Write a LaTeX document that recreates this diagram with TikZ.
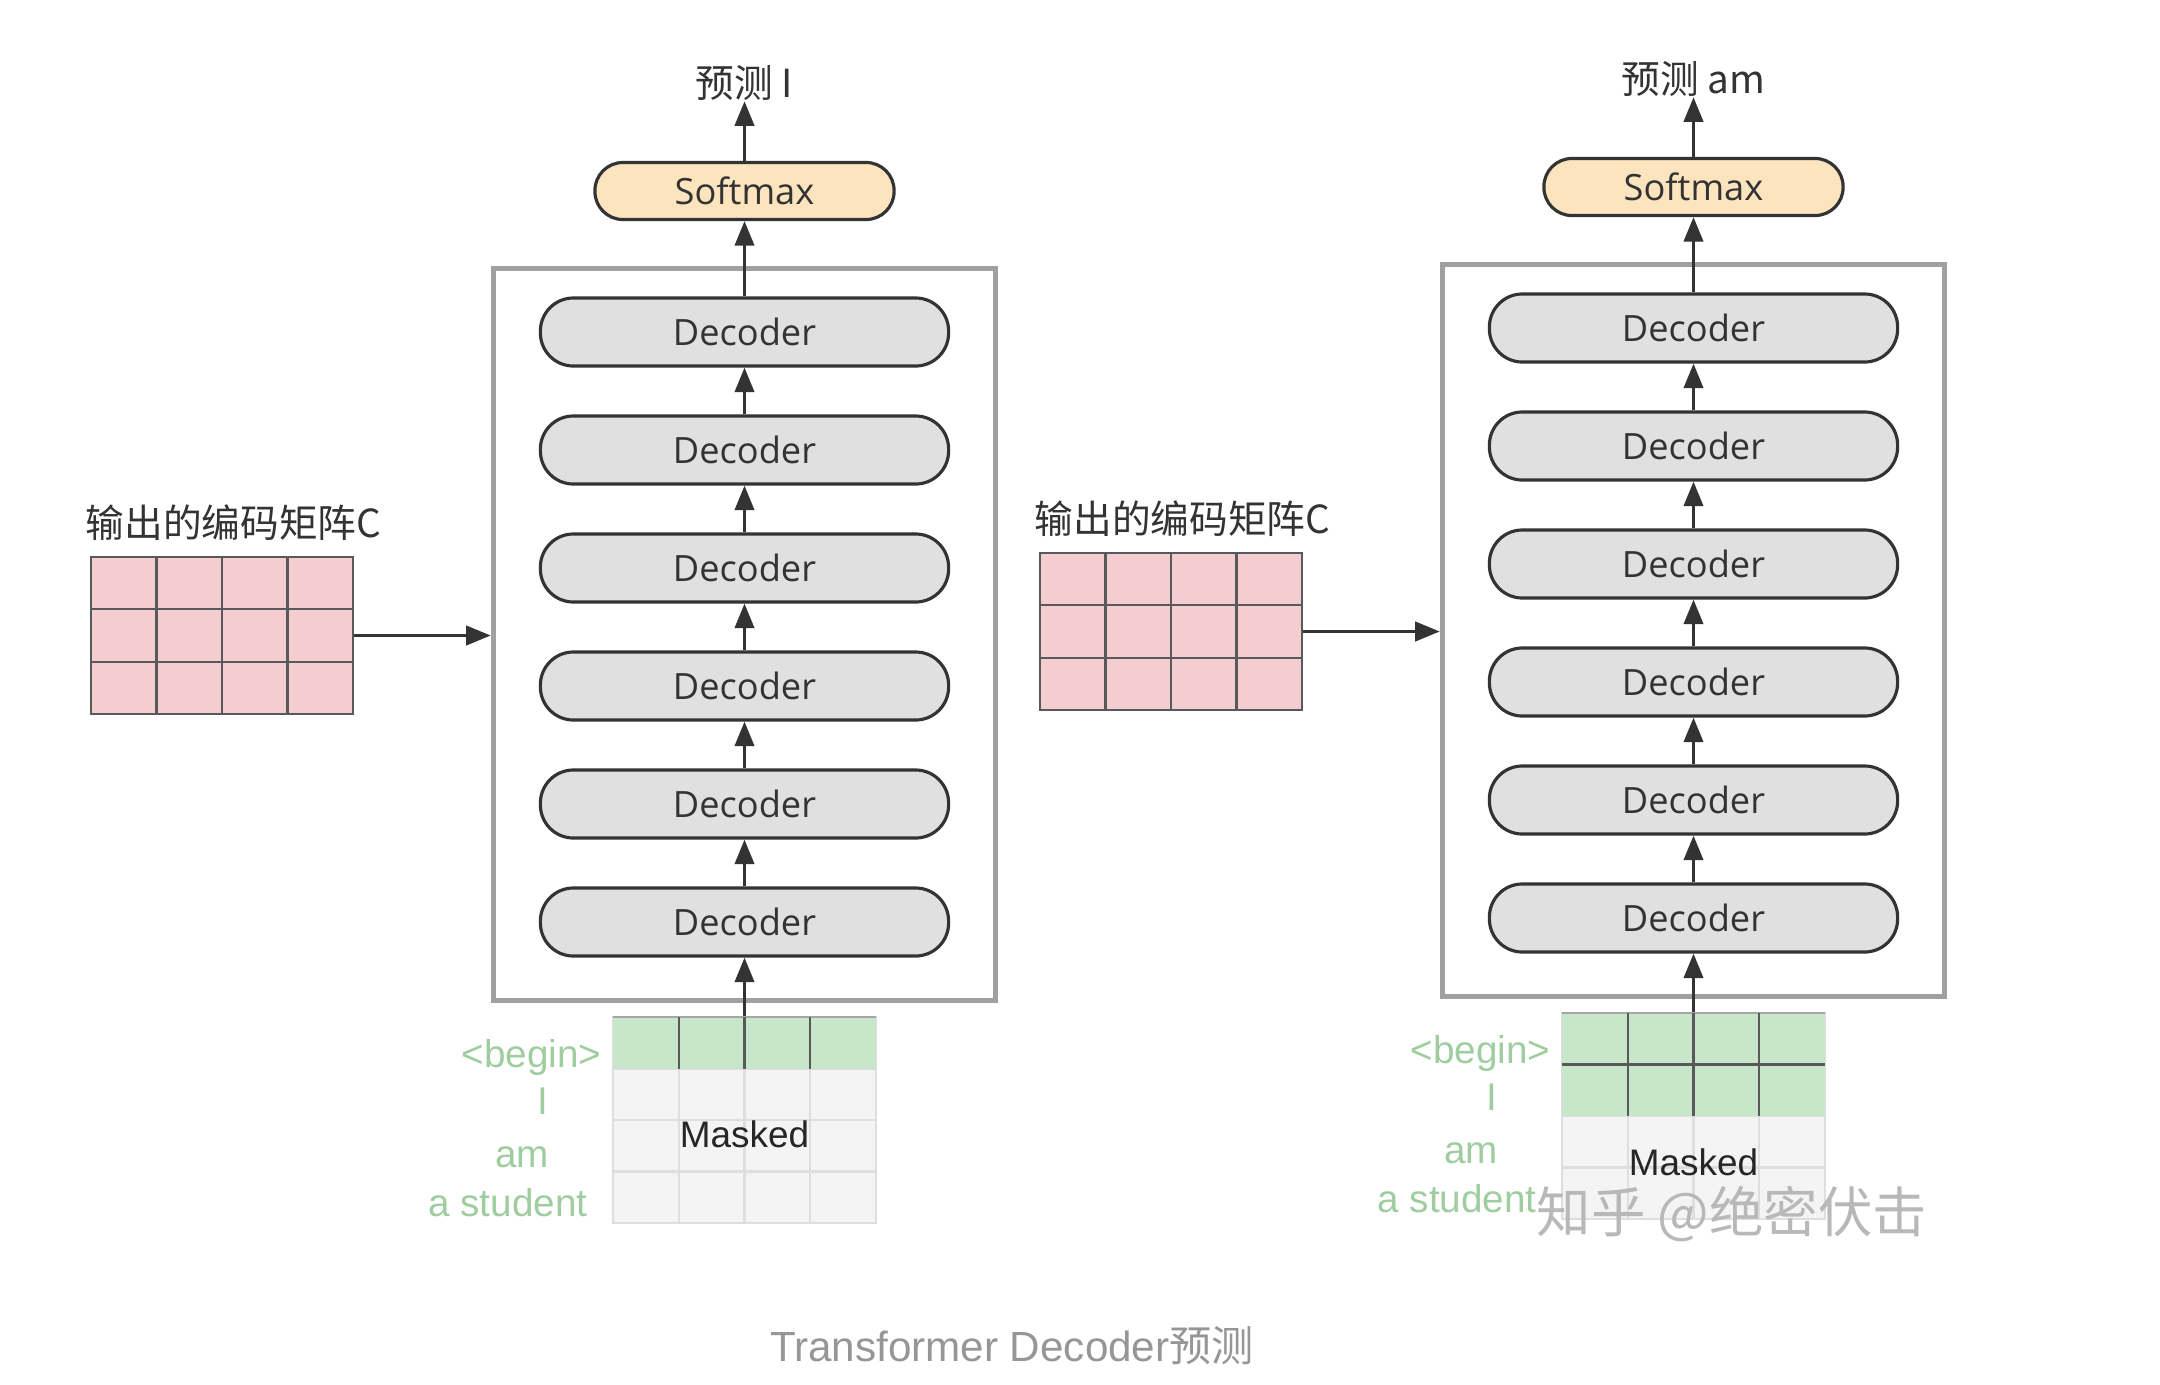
\documentclass[tikz,border=0pt]{standalone}
\usepackage{fontspec}
\setmainfont{Liberation Sans}
\newfontfamily\cjk{Noto Sans CJK SC}
\newfontfamily\decfont{Open Sans}
\usetikzlibrary{arrows.meta}

\definecolor{linedark}{RGB}{51,51,51}
\definecolor{decgray}{RGB}{224,224,224}
\definecolor{softorange}{RGB}{252,229,190}
\definecolor{boxgray}{RGB}{160,160,160}
\definecolor{encpink}{RGB}{244,205,209}
\definecolor{tokgreen}{RGB}{200,230,201}
\definecolor{maskgray}{RGB}{244,244,244}
\definecolor{masklines}{RGB}{222,222,222}
\definecolor{labgreen}{RGB}{160,205,160}
\definecolor{captgray}{RGB}{150,150,150}

\tikzset{
  decoder/.style={draw=linedark, line width=0.9pt, fill=decgray, rounded corners=0.33cm,
    minimum width=4.08cm, minimum height=0.68cm, text=linedark,
    font=\decfont\fontsize{10.3}{12}\selectfont},
  softbox/.style={decoder, fill=softorange, rounded corners=0.28cm,
    minimum width=2.99cm, minimum height=0.57cm},
  stackbox/.style={draw=boxgray, line width=1.5pt, minimum width=5.02cm, minimum height=7.31cm},
  arr/.style={-{Triangle[length=7pt,width=5.5pt]}, draw=linedark, line width=0.9pt},
  cjklabel/.style={font=\cjk\fontsize{11}{13}\selectfont, text=linedark, inner sep=0pt},
  toklabel/.style={font=\fontsize{11}{13}\selectfont, text=labgreen, inner sep=0pt},
  darkgrid/.style={draw=black!65, line width=0.6pt},
  lightgrid/.style={draw=masklines, line width=0.6pt},
}

\begin{document}
\begin{tikzpicture}[x=0.01cm, y=-0.01cm]
\useasboundingbox (0,0) rectangle (2160,1384);

% one panel per prediction step
\foreach \p/\sx/\sy/\pred/\ng in {l/0/0/{预测 I}/1, r/949/-4/{预测 am}/2} {
\begin{scope}[shift={(\sx,\sy)}]

% decoder stack
\node[stackbox] (stack\p) at (744.5,634.5) {};
\foreach \i in {1,...,6}
  \node[decoder] (dec\p\i) at (744.5,{922-118*(\i-1)}) {Decoder};
\foreach \i [count=\j from 2] in {1,...,5}
  \draw[arr] (dec\p\i) -- (dec\p\j);

% softmax and prediction
\node[softbox] (soft\p) at (744.5,191) {Softmax};
\draw[arr] (dec\p6) -- (soft\p);
\node[cjklabel] (pred\p) at (744.5,83) {\pred};
\draw[arr] (soft\p) -- (pred\p);

% encoder output matrix C
\node[cjklabel, anchor=west] (enclab\p) at (85,523) {输出的编码矩阵C};
\node[fill=encpink, darkgrid, minimum width=2.62cm, minimum height=1.57cm] (enc\p) at (222,635.5) {};
\foreach \cx in {156.5,222,287.5}
  \draw[darkgrid] (\cx,557) -- (\cx,714);
\foreach \cy in {609.3,661.7}
  \draw[darkgrid] (91,\cy) -- (353,\cy);
\draw[arr] (enc\p.east) -- (enc\p.east -| stack\p.west);

% input tokens with mask
\node[fill=maskgray, lightgrid, minimum width=2.63cm, minimum height=2.06cm] (tok\p) at (744.5,1120) {};
\foreach \cy in {1068.5,1120,1171.5}
  \draw[lightgrid] (613,\cy) -- (876,\cy);
\foreach \cx in {678.75,744.5,810.25}
  \draw[lightgrid] (\cx,1017) -- (\cx,1223);
\pgfmathsetmacro\gy{1017+51.5*\ng}
\fill[tokgreen] (613,1017) rectangle (876,\gy);
\draw[draw=black!35, line width=0.6pt] (613,1017) -- (876,1017);
\foreach \cx in {678.75,744.5,810.25}
  \draw[darkgrid] (\cx,1017) -- (\cx,\gy);
\ifnum\ng>1 \draw[darkgrid] (613,1068.5) -- (876,1068.5); \fi
\node[font=\fontsize{10.5}{12}\selectfont, text=black!85] (mask\p) at (744.5,{(\gy+1223)/2-17+6*\ng}) {Masked};
\draw[arr] (tok\p.north) -- (dec\p1.south);

% token words
\node[toklabel, anchor=east] (begin\p) at (602,1057) {<begin>};
\node[toklabel] (wI\p) at (543,1101) {I};
\node[toklabel] (wam\p) at (522,1157) {am};
\node[toklabel] (wstu\p) at (508,1203) {a student};

\end{scope}
}

% caption and watermark
\node[font=\fontsize{12}{14}\selectfont, text=captgray] (caption) at (1012,1346) {Transformer Decoder{\cjk 预测}};
\node[font=\cjk\fontsize{15.5}{17}\selectfont, text=black!28] (mark) at (1732,1214) {知乎 @绝密伏击};

\end{tikzpicture}
\end{document}
